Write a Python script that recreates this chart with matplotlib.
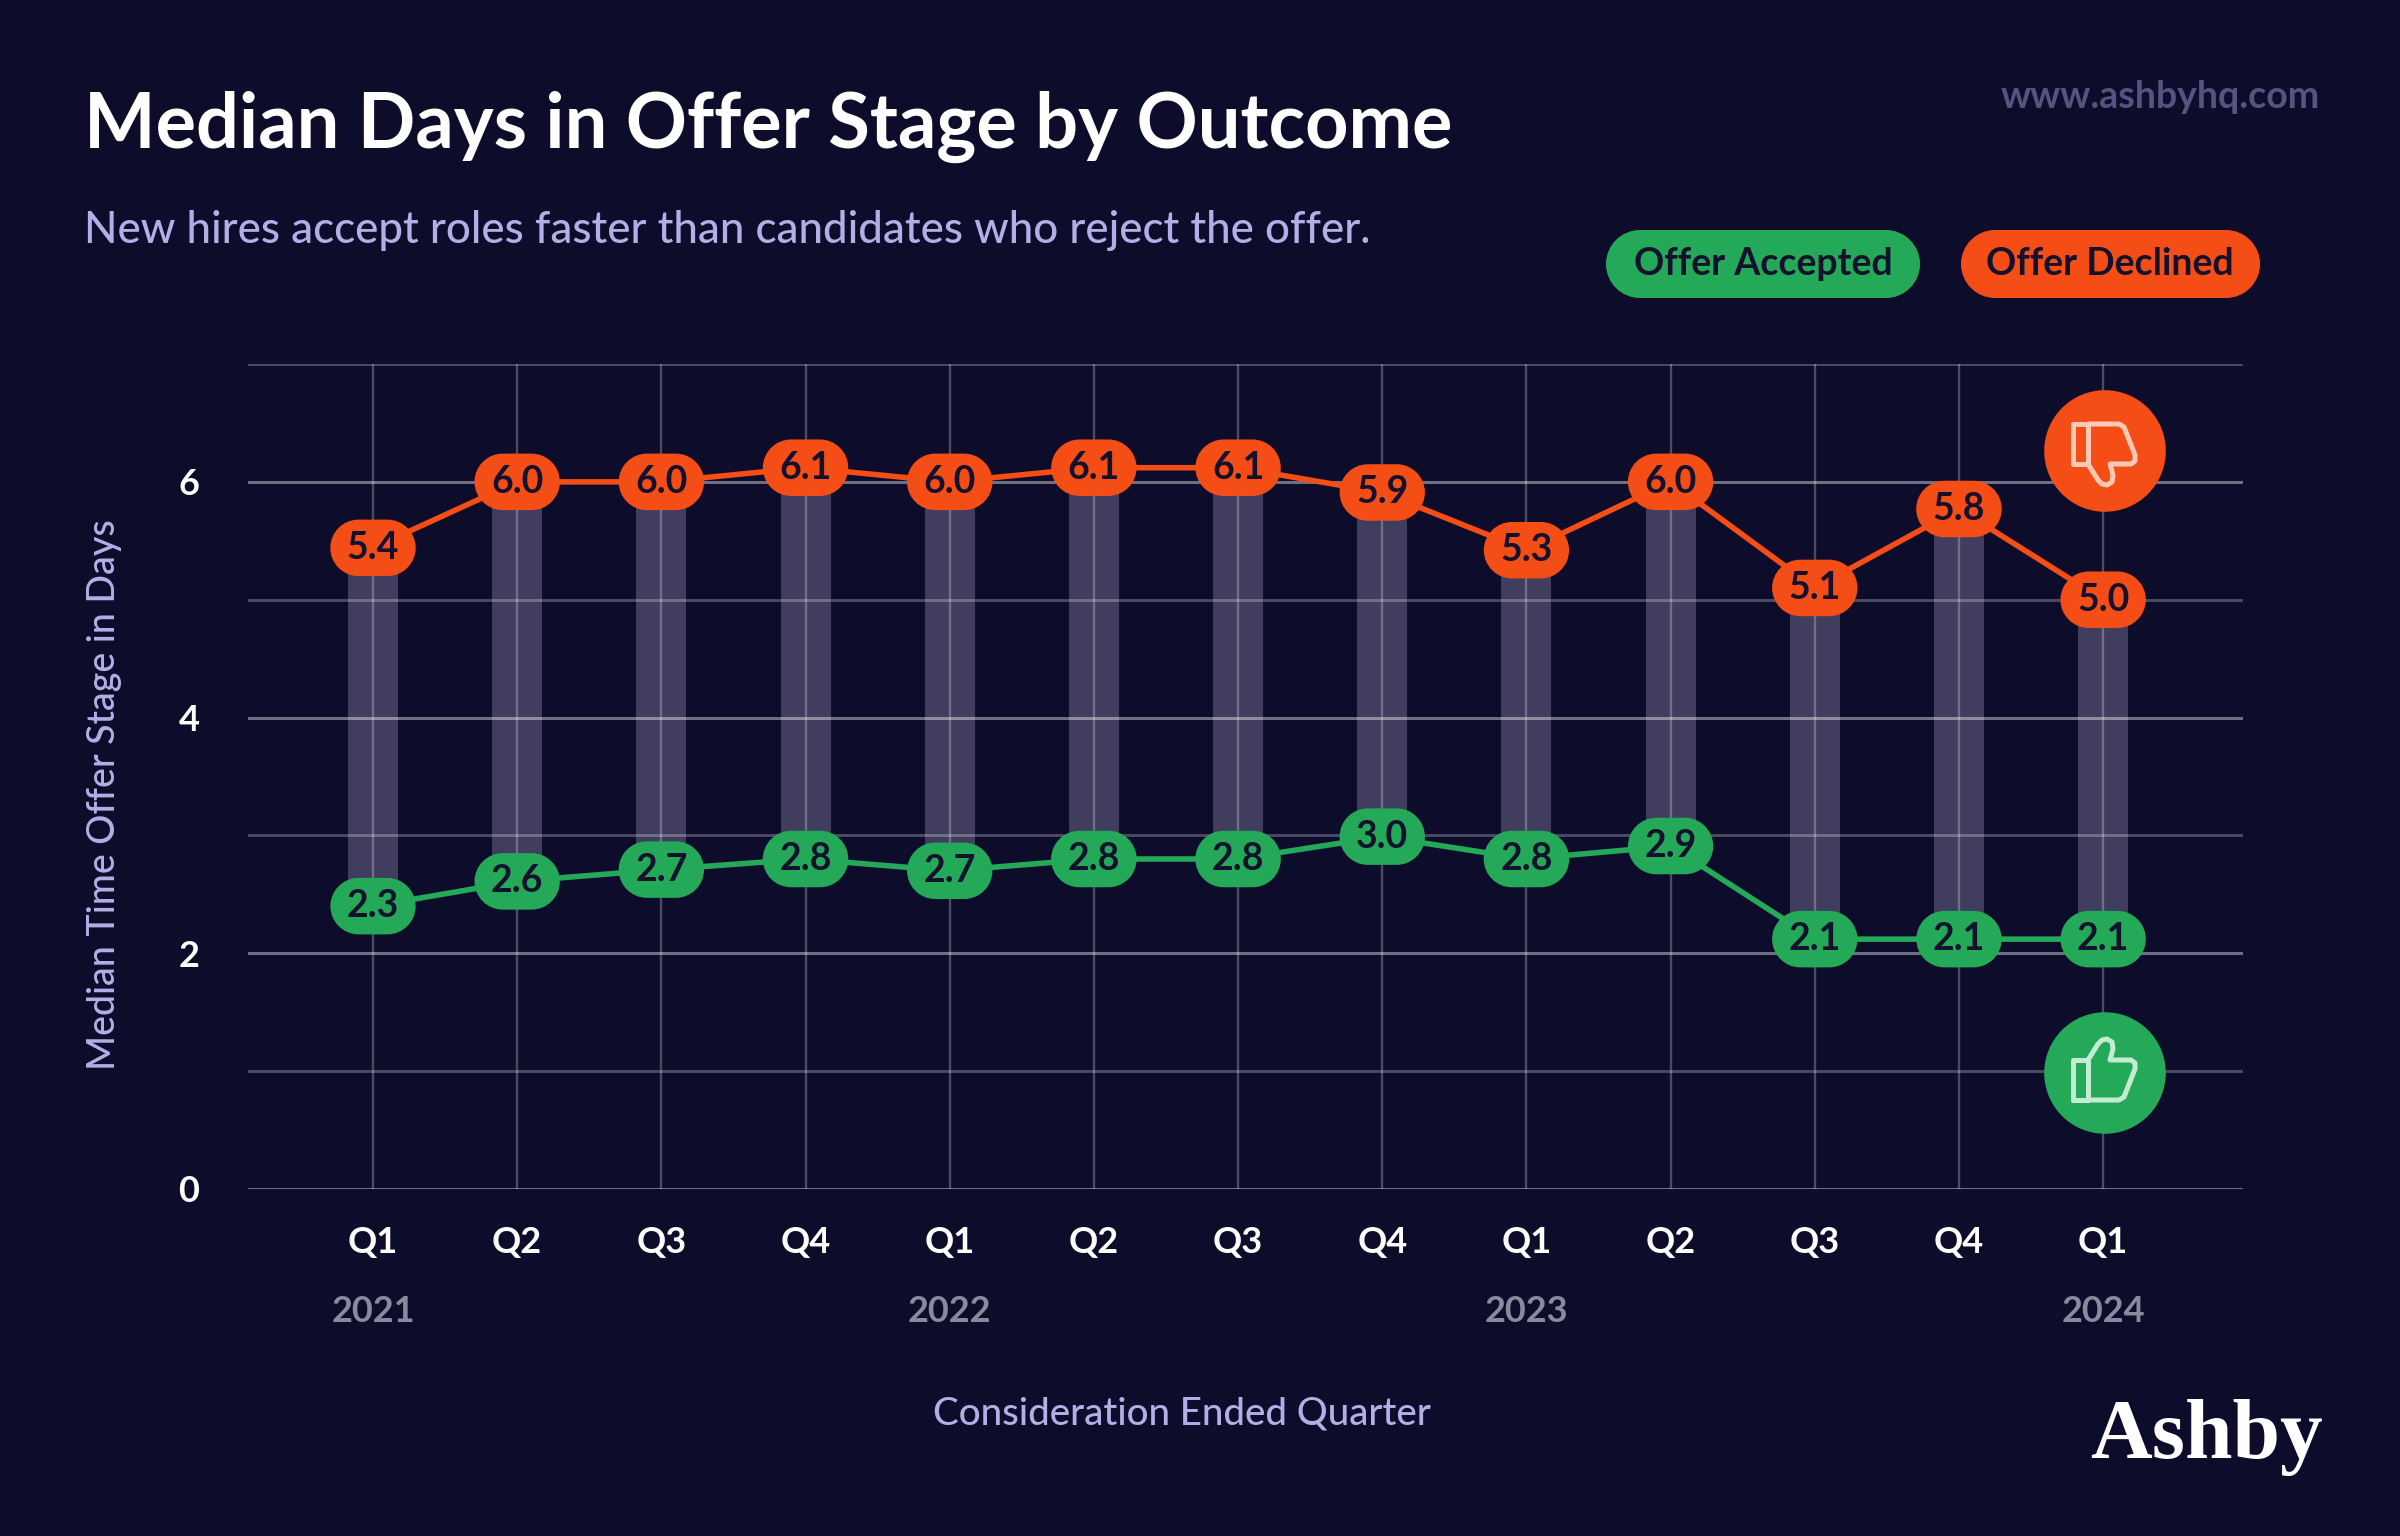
import matplotlib
matplotlib.use("Agg")
import matplotlib.pyplot as plt
from matplotlib.patches import Circle, PathPatch
from matplotlib.path import Path
from matplotlib.transforms import Affine2D

W, H = 2400, 1536
BG = "#0e0c2b"; ORANGE = "#f44e16"; GREEN = "#23a957"; INK = "#14112e"
LAV = "#b3aee6"; URL = "#57527f"; YEAR = "#8b8a9c"; BAR = "#403d5f"

quarters = ["Q1","Q2","Q3","Q4","Q1","Q2","Q3","Q4","Q1","Q2","Q3","Q4","Q1"]
year_pos = [0, 4, 8, 12]
year_labels = ["2021", "2022", "2023", "2024"]
# plotted heights
declined = [5.44,6.0,6.0,6.12,6.0,6.12,6.12,5.91,5.42,6.0,5.10,5.77,5.0]
accepted = [2.40,2.61,2.71,2.80,2.70,2.80,2.80,2.99,2.80,2.91,2.12,2.12,2.12]
# printed labels
declined_labels = ["5.4","6.0","6.0","6.1","6.0","6.1","6.1","5.9","5.3","6.0","5.1","5.8","5.0"]
accepted_labels = ["2.3","2.6","2.7","2.8","2.7","2.8","2.8","3.0","2.8","2.9","2.1","2.1","2.1"]
yticks = [0, 2, 4, 6]

plt.rcParams["font.family"] = ["Lato", "DejaVu Sans"]
fig = plt.figure(figsize=(W/100, H/100), dpi=100, facecolor=BG)
ax = fig.add_axes([248/W, 1-1189/H, (2243-248)/W, (1189-364)/H], facecolor=BG)
ax.set_xlim(-0.867, 12.97)
ax.set_ylim(0, 7)
for s in ax.spines.values():
    s.set_visible(False)

px = Affine2D().scale(1/W, -1/H).translate(0, 1) + fig.transFigure

K = 0.5523
def stadium_path(x0, y0, w, h):
    r = h/2
    c = r*(1-K)
    x1, y1 = x0+w, y0+h
    verts = [(x0+r,y0),(x1-r,y0),
             (x1-c,y0),(x1,y0+c),(x1,y0+r),
             (x1,y1-c),(x1-c,y1),(x1-r,y1),
             (x0+r,y1),
             (x0+c,y1),(x0,y1-c),(x0,y0+r),
             (x0,y0+c),(x0+c,y0),(x0+r,y0),(x0+r,y0)]
    codes = [Path.MOVETO,Path.LINETO]+[Path.CURVE4]*6+[Path.LINETO]+[Path.CURVE4]*6+[Path.CLOSEPOLY]
    return Path(verts, codes)

def stadium_box(x0, y0, w, h, mutation_size):
    padx = 0.44*mutation_size
    pady = 0.30*mutation_size
    return stadium_path(x0-padx, y0-pady, w+2*padx, h+2*pady)

xs = list(range(len(quarters)))
ax.bar(xs, [d-a for d, a in zip(declined, accepted)], bottom=accepted, width=0.347, color=BAR, zorder=1, linewidth=0)
for v in range(8):
    ax.axhline(v, color="white", alpha=0.42 if v % 2 == 0 else 0.26, lw=2.1, zorder=1.5)
for x in xs:
    ax.axvline(x, color="white", alpha=0.26, lw=1.7, zorder=1.5)

ax.plot(xs, declined, color=ORANGE, lw=4, zorder=3, solid_capstyle="round")
ax.plot(xs, accepted, color=GREEN, lw=4, zorder=3, solid_capstyle="round")

def labels(vals, texts, color):
    for x, v, t in zip(xs, vals, texts):
        ax.text(x, v, t, ha="center", va="center", fontsize=27, fontweight="bold", color=INK, zorder=5,
                bbox=dict(boxstyle=stadium_box, fc=color, ec="none"))
labels(declined, declined_labels, ORANGE)
labels(accepted, accepted_labels, GREEN)

ax.set_xticks(xs, quarters, fontweight="bold")
ax.set_yticks(yticks, [str(v) for v in yticks], fontweight="bold")
ax.tick_params(axis="both", length=0, colors="white", labelsize=26)
ax.tick_params(axis="x", pad=27)
ax.tick_params(axis="y", pad=35)
for x, t in zip(year_pos, year_labels):
    ax.text(x, -0.149, t, transform=ax.get_xaxis_transform(), ha="center", va="center", fontsize=26, color=YEAR, fontweight="bold")
ax.set_xlabel("Consideration Ended Quarter", fontsize=27.7, color=LAV, fontweight="medium")
ax.xaxis.set_label_coords((1182-248)/(2243-248), -(1414-1189)/825, transform=ax.transAxes)
ax.xaxis.label.set_va("center")
ax.set_ylabel("Median Time Offer Stage in Days", fontsize=27.1, color=LAV, fontweight="medium")
ax.yaxis.set_label_coords((105-248)/(2243-248), (1189-795)/825, transform=ax.transAxes)
ax.yaxis.label.set_va("center")

def ftext(x, y, s, **kw):
    return fig.text(x, y, s, transform=px, **kw)

ftext(84, 148, "Median Days in Offer Stage by Outcome", fontsize=54.5, fontweight="bold", color="white", va="baseline", ha="left")
ftext(84, 243, "New hires accept roles faster than candidates who reject the offer.", fontsize=31.6, color=LAV, va="baseline", ha="left", fontweight="medium")
ftext(2320, 97, "www.ashbyhq.com", fontsize=27, color=URL, va="center", ha="right", fontweight="bold")
ftext(2323, 1438, "Ashby", fontsize=61.5, color="white", va="center", ha="right", fontweight="bold", family=["Liberation Serif"])

def pill(x0, x1, y0, y1, color):
    fig.add_artist(PathPatch(stadium_path(x0, y0, x1-x0, y1-y0), transform=px, fc=color, ec="none"))
pill(1606, 1920, 230, 298, GREEN)
pill(1961, 2260, 230, 298, ORANGE)
ftext(1763, 264, "Offer Accepted", fontsize=27, color=INK, ha="center", va="center", fontweight="bold", zorder=5)
ftext(2110, 264, "Offer Declined", fontsize=27, color=INK, ha="center", va="center", fontweight="bold", zorder=5)

# icon outline, pixel offsets from circle centre (thumb down; mirrored for thumb up)
cuff = [(-32,-27),(-17,-27),(-17,13),(-32,13),(-32,-27)]
hand = [(-17,-27),(14,-27),(19,-24),(30,4),(30,10),(26,13),(5,13),(8,24),(7,31),(2,34),(-3,33),(-7,29),(-17,13)]

def icon(cx, cy, color, stroke, flip):
    fig.add_artist(Circle((cx, cy), 60.8, transform=px, fc=color, ec="none", zorder=4))
    sgn = -1 if flip else 1
    for pts in (cuff, hand):
        path = Path([(cx+a, cy+sgn*b) for a, b in pts])
        fig.add_artist(PathPatch(path, transform=px, fc="none", ec=stroke, lw=3.6, joinstyle="round", capstyle="round", zorder=5))
icon(2105, 451, ORANGE, "#fcc9b6", False)
icon(2105, 1073, GREEN, "#c4ecd2", True)

fig.savefig("out.png", dpi=100, facecolor=BG)
